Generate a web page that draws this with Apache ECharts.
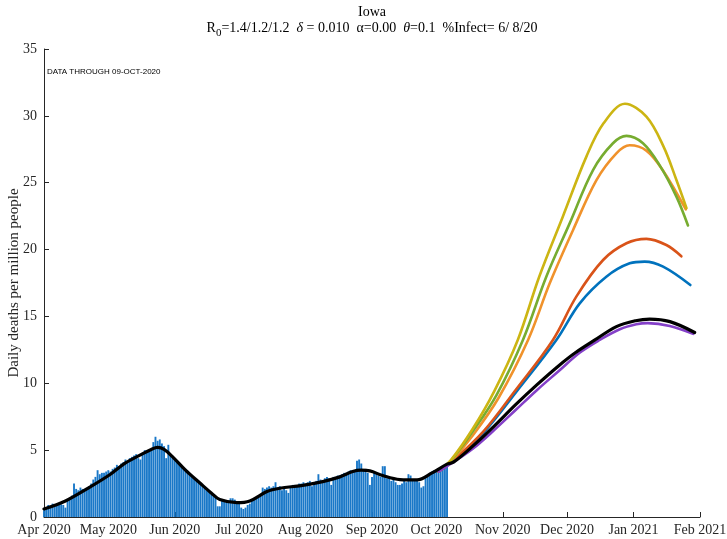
<!DOCTYPE html>
<html><head><meta charset="utf-8">
<script src="https://cdn.jsdelivr.net/npm/echarts@6/dist/echarts.min.js"></script>
<style>html,body{margin:0;padding:0;background:#fff}#c{width:727px;height:539px}</style>
</head><body><div id="c"></div>
<script>
// ---- data ----
const startDate = Date.UTC(2020, 3, 1); // Apr 1 2020 = day 0
const monthLabels = ['Apr 2020','May 2020','Jun 2020','Jul 2020','Aug 2020','Sep 2020','Oct 2020','Nov 2020','Dec 2020','Jan 2021','Feb 2021'];
const monthStarts = [[2020,3],[2020,4],[2020,5],[2020,6],[2020,7],[2020,8],[2020,9],[2020,10],[2020,11],[2021,0],[2021,1]];
const yTicks = [0,5,10,15,20,25,30,35];

// daily deaths per million, from Apr 1 2020 (day 0)
const barValues = [
 0.5,0.7,0.9,0.8,1.0,0.9,0.9,1.0,0.95,0.9,
 0.7,1.3,1.4,1.6,2.5,2.1,2.0,2.2,2.1,2.0,
 2.1,2.3,2.5,2.8,3.0,3.5,3.2,3.3,3.3,3.4,
 3.5,3.4,3.6,3.7,3.9,3.8,4.0,4.1,4.3,4.2,
 4.4,4.5,4.6,4.7,4.4,4.3,4.8,5.0,4.8,4.9,
 5.0,5.6,6.0,5.7,5.8,5.5,5.3,4.4,5.4,4.6,
 4.5,4.4,4.2,4.0,3.9,3.7,3.6,3.4,3.2,3.1,
 2.9,2.8,2.6,2.5,2.3,2.2,2.0,1.9,1.7,1.6,
 1.5,0.8,0.8,1.3,1.2,1.1,1.2,1.4,1.4,1.3,
 1.1,1.0,0.7,0.6,0.7,0.9,1.0,1.2,1.3,1.4,
 1.5,1.6,2.2,2.1,2.2,2.3,2.2,2.3,2.6,2.2,
 2.3,2.0,2.1,2.0,1.8,2.2,2.4,2.4,2.4,2.5,
 2.5,2.6,2.5,2.6,2.7,2.3,2.6,2.7,3.2,2.8,
 2.7,2.9,3.0,2.9,2.4,3.0,3.0,3.1,3.1,3.2,
 3.3,3.3,3.4,3.5,3.4,3.5,4.2,4.3,4.0,3.5,
 3.6,3.3,2.4,3.0,3.3,3.2,3.1,3.0,3.8,3.8,
 2.9,3.0,2.7,2.8,2.6,2.4,2.4,2.5,2.7,2.6,
 3.2,3.1,2.7,2.8,2.7,2.6,2.2,2.3,2.9,3.0,
 3.3,3.4,3.5,3.5,3.6,3.7,3.6,3.8,4.0
];

// fitted curve (black) [day, value]
const fitBlack = [[0,0.6],[10,1.2],[21,2.2],[31,3.2],[38,4.05],[45,4.65],[50,5.05],[53,5.2],[56,5.05],[60,4.5],[66,3.5],[73,2.5],[78,1.8],[82,1.3],[90,1.07],[96,1.2],[104,1.9],[110,2.15],[120,2.35],[130,2.65],[138,3.0],[144,3.4],[148,3.5],[152,3.45],[158,3.1],[166,2.8],[174,2.77],[181,3.3],[188,3.95],[191,4.1],[200,5.3],[210,6.8],[220,8.4],[230,9.9],[240,11.3],[248,12.3],[257,13.24],[267,14.24],[276,14.68],[282.5,14.8],[292,14.61],[303.5,13.8]];
const projYellow = [[184,3.4],[190,4.3],[200,6.6],[210,9.4],[221,13.24],[231,17.97],[242,22.46],[253,26.95],[261,29.44],[271,30.9],[281,29.94],[289,27.7],[295,25.2],[299.7,23.1]];
const projGreen  = [[184,3.4],[190,4.25],[200,6.4],[211,9.1],[223.4,13.24],[234.3,17.97],[245.2,21.96],[256.1,25.95],[265.4,27.95],[271.7,28.5],[279.4,27.95],[287.2,26.3],[295,23.96],[300.4,21.8]];
const projOrange = [[184,3.4],[190,4.2],[200,6.1],[212,8.9],[225.8,13.24],[235.9,17.48],[246.8,21.47],[257.7,25.2],[267,27.2],[273.2,27.8],[281,27.4],[288.8,25.9],[299.4,23.0]];
const projRed    = [[184,3.4],[190,4.1],[205,6.4],[220,9.5],[237.4,13.24],[248.3,16.48],[260.8,19.22],[271.7,20.47],[281,20.8],[290.3,20.34],[297.3,19.5]];
const projBlue   = [[184,3.4],[190,4.1],[205,6.3],[221,9.5],[239,13.24],[249.9,15.98],[262.3,17.97],[273.2,18.97],[280.2,19.1],[288.8,18.72],[301.5,17.35]];
const projPurple = [[184,3.4],[190,4.0],[200,5.1],[210,6.5],[220,8.0],[230,9.5],[240,10.9],[250,12.3],[259.2,13.24],[268.6,14.04],[276.3,14.41],[281.6,14.5],[291.9,14.29],[302.8,13.7]];

// ---- build ----
const dayOf = (y, m) => Math.round((Date.UTC(y, m, 1) - startDate) / 86400000);
const monthDays = monthStarts.map(p => dayOf(p[0], p[1]));
const barData = barValues.map((v, i) => [i, v]);

const serif = 'Liberation Serif';
const axisColor = '#262626';
const chart = echarts.init(document.getElementById('c'), null, {renderer: 'canvas'});

function lineSeries(data, color, width, z) {
  return {type: 'line', data: data, smooth: 0.35, symbol: 'none', z: z,
    lineStyle: {color: color, width: width, cap: 'round', join: 'round'}, silent: true};
}

chart.setOption({
  animation: false,
  backgroundColor: '#fff',
  grid: {left: 44, right: 27, top: 49, bottom: 22, containLabel: false, outerBoundsMode: 'none'},
  xAxis: {
    type: 'value', min: 0, max: monthDays[monthDays.length - 1],
    splitLine: {show: false},
    axisLine: {show: true, lineStyle: {color: axisColor, width: 1}},
    axisTick: {show: true, inside: true, length: 5, customValues: monthDays, lineStyle: {color: axisColor}},
    axisLabel: {customValues: monthDays, margin: 6, color: axisColor, fontFamily: serif, fontSize: 14,
      showMinLabel: true, showMaxLabel: true, hideOverlap: false,
      formatter: v => { const i = monthDays.indexOf(Math.round(v)); return i >= 0 ? monthLabels[i] : ''; }}
  },
  yAxis: {
    type: 'value', min: 0, max: 35, interval: 5,
    name: 'Daily deaths per million people', nameLocation: 'middle', nameGap: 22, nameMoveOverlap: false,
    nameTextStyle: {fontFamily: serif, fontSize: 15, color: axisColor},
    splitLine: {show: false},
    axisLine: {show: true, lineStyle: {color: axisColor, width: 1}},
    axisTick: {show: true, inside: true, length: 5, lineStyle: {color: axisColor}},
    axisLabel: {margin: 7, color: axisColor, fontFamily: serif, fontSize: 14,
      formatter: v => yTicks.indexOf(v) >= 0 ? String(v) : ''}
  },
  series: [
    {type: 'bar', data: barData, barWidth: 1.9, z: 1, silent: true, large: false,
     itemStyle: {color: '#1a78c8'}},
    lineSeries(fitBlack, '#000000', 3.2, 9),
    lineSeries(projPurple, '#8440c8', 2.6, 8),
    lineSeries(projBlue, '#0072BD', 2.6, 4),
    lineSeries(projRed, '#D95319', 2.6, 4),
    lineSeries(projOrange, '#F0922B', 2.6, 4),
    lineSeries(projGreen, '#77AC30', 2.6, 5),
    lineSeries(projYellow, '#CCB513', 2.6, 6)
  ],
  graphic: [
    {type: 'text', x: 372, y: 5, style: {text: 'Iowa', font: '14px "Liberation Serif"', fill: '#000', align: 'center', verticalAlign: 'top'}},
    {type: 'text', x: 372, y: 21, style: {
      text: '{a|R}{s|0}{a|=1.4/1.2/1.2  }{i|δ}{a| = 0.010  α=0.00  }{i|θ}{a|=0.1  %Infect= 6/ 8/20}',
      align: 'center', verticalAlign: 'top',
      rich: {
        a: {fontFamily: serif, fontSize: 14, fill: '#000', lineHeight: 18, verticalAlign: 'top'},
        i: {fontFamily: serif, fontSize: 14, fontStyle: 'italic', fill: '#000', lineHeight: 18, verticalAlign: 'top'},
        s: {fontFamily: serif, fontSize: 11, fill: '#000', lineHeight: 18, padding: [7, 0, 0, 0], verticalAlign: 'top'}
      }}},
    {type: 'text', x: 47, y: 68, style: {text: 'DATA THROUGH 09-OCT-2020', font: '8px "Liberation Sans"', fill: '#000', verticalAlign: 'top'}}
  ]
});
</script></body></html>
